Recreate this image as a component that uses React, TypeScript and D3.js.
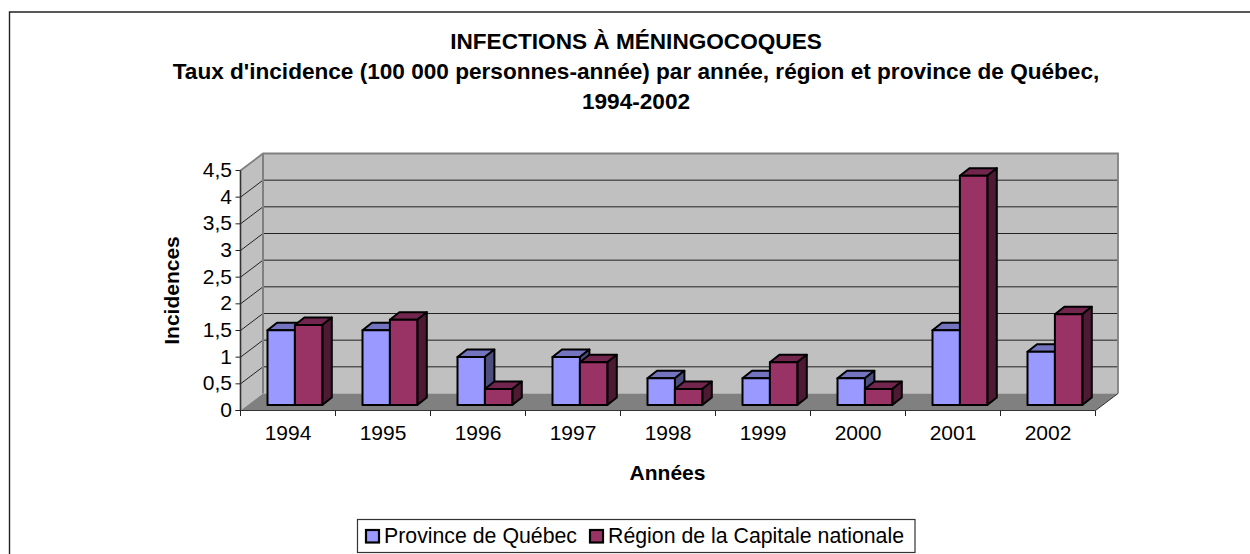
import React from "react";
import * as d3 from "d3";

const categories = ["1994","1995","1996","1997","1998","1999","2000","2001","2002"];
const province = [1.4,1.4,0.9,0.9,0.5,0.5,0.5,1.4,1.0];
const capitale = [1.5,1.6,0.3,0.8,0.3,0.8,0.3,4.3,1.7];
const yTicks = [0,0.5,1,1.5,2,2.5,3,3.5,4,4.5];
const titleLines = [
  "INFECTIONS À MÉNINGOCOQUES",
  "Taux d'incidence (100 000 personnes-année) par année, région et province de Québec,",
  "1994-2002",
];
const seriesNames = ["Province de Québec","Région de la Capitale nationale"];

const FONT = "'Liberation Sans', Arial, sans-serif";
const left = 240.5, right = 1095.5, y0 = 410.5, yTop = 170.5;
const dx = 22.5, dy = -17;
const x = d3.scaleBand<string>().domain(categories).range([left, right]);
const y = d3.scaleLinear().domain([0, 4.5]).range([y0, yTop]);
const fmt = (v: number) => String(v).replace(".", ",");
const poly = (p: number[][]) => p.map(q => q.join(",")).join(" ");

function Bar({ x0, w, v, front, top, side }: { x0: number; w: number; v: number; front: string; top: string; side: string }) {
  const base = -5.5;
  const by = y(0) + base;
  const ty = y(v) + base;
  const d = 9.5, e = -7.5;
  return (
    <g stroke="#000" strokeWidth={2} strokeLinejoin="round">
      <polygon points={poly([[x0, ty], [x0 + d, ty + e], [x0 + w + d, ty + e], [x0 + w, ty]])} fill={top} />
      <polygon points={poly([[x0 + w, ty], [x0 + w + d, ty + e], [x0 + w + d, by + e], [x0 + w, by]])} fill={side} />
      <rect x={x0} y={ty} width={w} height={by - ty} fill={front} />
    </g>
  );
}

export default function App() {
  const bw = 27.4;
  const off = 27;
  return (
    <svg width={1250} height={554} style={{ position: "absolute", left: 0, top: 0, background: "#fff" }} fontFamily={FONT}>
      <path d="M9.5,554 V12 H1250" fill="none" stroke="#222" strokeWidth={1.4} />
      {titleLines.map((t, i) => (
        <text key={i} x={636} y={48.5 + i * 30} textAnchor="middle" fontWeight="bold" fontSize={22.6} fill="#000">{t}</text>
      ))}
      <polygon points={poly([[left, y0], [left, yTop], [left + dx, yTop + dy], [left + dx, y0 + dy]])} fill="#c0c0c0" />
      <polygon points={poly([[left + dx, yTop + dy], [right + dx, yTop + dy], [right + dx, y0 + dy], [left + dx, y0 + dy]])} fill="#c0c0c0" />
      <polygon points={poly([[left, y0], [left + dx, y0 + dy], [right + dx, y0 + dy], [right, y0]])} fill="#808080" />
      {yTicks.slice(1, -1).map(t => (
        <g key={t} stroke="#222" strokeWidth={1}>
          <line x1={left} y1={y(t)} x2={left + dx} y2={y(t) + dy} />
          <line x1={left + dx} y1={y(t) + dy} x2={right + dx} y2={y(t) + dy} />
        </g>
      ))}
      <polyline points={poly([[left, yTop], [left + dx, yTop + dy], [right + dx, yTop + dy], [right + dx, y0 + dy]])} fill="none" stroke="#808080" strokeWidth={1.8} />
      <line x1={right} y1={y0} x2={right + dx} y2={y0 + dy} stroke="#333" strokeWidth={1} />
      <line x1={left + dx} y1={yTop + dy} x2={left + dx} y2={y0 + dy} stroke="#808080" strokeWidth={2} />
      {categories.map((c, i) => {
        const x0 = (x(c) as number) + off;
        return (
          <g key={c}>
            <Bar x0={x0} w={bw} v={province[i]} front="#9999ff" top="#7373bf" side="#4d4d80" />
            <Bar x0={x0 + bw} w={bw} v={capitale[i]} front="#993366" top="#73264d" side="#4d1933" />
          </g>
        );
      })}
      <line x1={left} y1={yTop} x2={left} y2={y0} stroke="#333" strokeWidth={1.6} />
      <line x1={left - 5} y1={y0} x2={right} y2={y0} stroke="#333" strokeWidth={1.2} />
      {yTicks.map(t => (
        <g key={t}>
          <line x1={left - 5} y1={y(t)} x2={left} y2={y(t)} stroke="#222" strokeWidth={1} />
          <text x={232} y={y(t) + 6.5} textAnchor="end" fontSize={21} fill="#000">{fmt(t)}</text>
        </g>
      ))}
      {[...categories.map(c => x(c) as number), right].map((p, i) => (
        <line key={i} x1={p} y1={y0} x2={p} y2={y0 + 5.5} stroke="#222" strokeWidth={1} />
      ))}
      {categories.map(c => (
        <text key={c} x={(x(c) as number) + x.bandwidth() / 2} y={440} textAnchor="middle" fontSize={21} fill="#000">{c}</text>
      ))}
      <text x={667.5} y={480} textAnchor="middle" fontWeight="bold" fontSize={21} fill="#000">Années</text>
      <text transform="translate(178.5,290.5) rotate(-90)" textAnchor="middle" fontWeight="bold" fontSize={21} fill="#000">Incidences</text>
      <rect x={357.5} y={519.5} width={557.5} height={33} fill="#fff" stroke="#333" strokeWidth={1.2} />
      <rect x={366} y={530} width={13} height={12.5} fill="#9999ff" stroke="#000" strokeWidth={2.2} />
      <text x={384} y={543} fontSize={21.3} fill="#000">{seriesNames[0]}</text>
      <rect x={590} y={530} width={13} height={12.5} fill="#993366" stroke="#000" strokeWidth={2.2} />
      <text x={608} y={543} fontSize={21.3} fill="#000">{seriesNames[1]}</text>
    </svg>
  );
}
